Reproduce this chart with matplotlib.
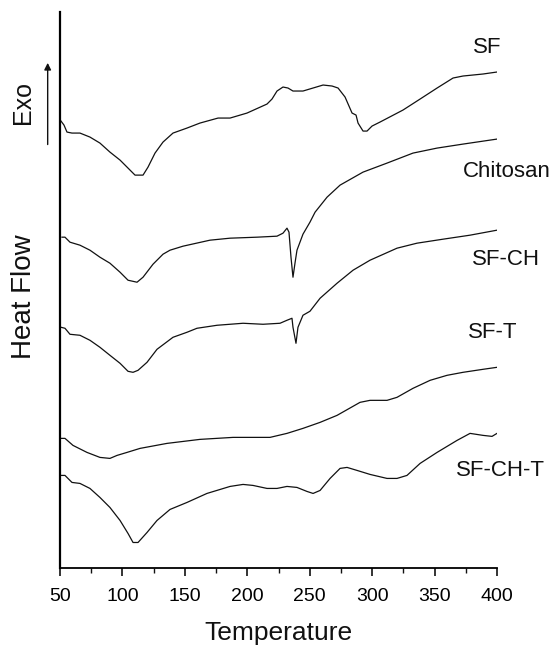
import matplotlib
matplotlib.use('Agg')
import matplotlib.pyplot as plt
from matplotlib.ticker import MultipleLocator

plt.rcParams['font.family'] = ['Liberation Sans', 'DejaVu Sans']

# ── curves (temperature, heat flow in arbitrary offset units) ──
sf_t = [50.8, 53.2, 55.6, 59.6, 66.0, 74.0, 82.0, 90.0, 98.1, 106.1, 110.1, 116.5,
        120.5, 126.1, 132.5, 140.5, 151.7, 162.1, 176.6, 186.2, 199.8, 215.8, 219.8,
        223.8, 228.6, 232.6, 236.6, 244.6, 260.7, 267.9, 272.7, 278.3, 283.9, 287.1,
        288.7, 292.7, 295.9, 299.9, 306.3, 324.7, 338.4, 352.0, 364.8, 372.8, 388.8, 400]
sf_h = [446, 442, 435, 434, 434, 430, 424, 415, 407, 397, 392, 392,
        400, 414, 425, 434, 439, 444, 449, 449, 454, 463, 468,
        476, 480, 479, 476, 476, 482, 481, 479, 470, 454, 452,
        444, 436, 436, 441, 445, 457, 468, 479, 489, 491, 493, 495]

ch_t = [51.6, 54.0, 58.0, 66.0, 74.0, 82.0, 90.0, 98.1, 104.5, 111.7, 116.5, 124.5,
        132.5, 138.1, 148.5, 170.1, 186.2, 207.8, 223.8, 228.6, 231.8, 233.4, 235.0,
        236.6, 238.2, 239.8, 244.6, 250.2, 254.3, 263.9, 274.3, 292.7, 311.9, 332.7,
        352.0, 372.8, 400]
ch_h = [330, 330, 325, 322, 317, 310, 304, 295, 287, 285, 290, 303,
        313, 317, 321, 327, 329, 330, 331, 334, 339, 335, 310,
        290, 304, 317, 333, 345, 355, 370, 382, 395, 404, 414,
        419, 423, 428]

sfch_t = [50.8, 54.0, 58.0, 66.0, 74.0, 82.0, 90.0, 98.1, 104.5, 108.5, 112.5, 119.7,
          127.7, 140.5, 151.7, 159.7, 175.8, 196.6, 212.6, 226.2, 231.8, 235.8, 236.6,
          239.0, 240.6, 244.6, 250.2, 258.3, 271.9, 284.7, 298.3, 319.9, 335.9, 356.8,
          378.4, 400]
sfch_h = [240, 239, 233, 232, 227, 220, 212, 204, 196, 195, 197, 205,
          218, 230, 235, 239, 242, 244, 243, 244, 247, 249, 240,
          224, 240, 252, 256, 269, 284, 297, 307, 319, 324, 328,
          332, 337]

sft_t = [50.8, 54.0, 60.4, 71.6, 82.0, 90.0, 95.7, 103.7, 114.1, 135.7, 162.1, 188.6,
         218.2, 231.8, 244.6, 258.3, 271.9, 290.3, 298.3, 311.9, 319.9, 332.7, 346.4,
         360.0, 372.8, 388.8, 400]
sft_h = [129, 129, 122, 115, 110, 109, 112, 115, 119, 124, 128, 130,
         130, 134, 139, 145, 152, 165, 167, 167, 170, 179, 187,
         192, 195, 198, 200]

sfcht_t = [50, 54.0, 59.6, 66.0, 74.0, 82.0, 90.0, 98.1, 104.5, 108.5, 112.5, 119.7,
           127.7, 138.1, 151.7, 167.7, 186.2, 196.6, 204.6, 215.8, 223.8, 231.8, 239.8,
           247.8, 252.7, 258.3, 266.3, 274.3, 279.9, 287.9, 298.3, 311.9, 319.9, 327.9,
           338.4, 352.0, 368.0, 378.4, 388.8, 396.0, 400]
sfcht_h = [92, 92, 85, 84, 79, 70, 60, 47, 34, 25, 25, 35,
           47, 58, 65, 74, 81, 83, 82, 79, 79, 81, 80,
           76, 74, 77, 89, 99, 100, 97, 93, 89, 89, 92,
           104, 115, 127, 134, 132, 131, 134]

curves = [(sf_t, sf_h), (ch_t, ch_h), (sfch_t, sfch_h), (sft_t, sft_h), (sfcht_t, sfcht_h)]
labels = ['SF', 'Chitosan', 'SF-CH', 'SF-T', 'SF-CH-T']
label_pos = [(0.874, 0.927), (0.910, 0.735), (0.908, 0.598), (0.885, 0.485), (0.899, 0.271)]

fig = plt.figure(figsize=(5.57, 6.46), dpi=100)
fig.patch.set_facecolor('white')
ax = fig.add_axes([0.1077, 0.1215, 0.7846, 0.8600])

for t, h in curves:
    ax.plot(t, h, color='#111111', linewidth=0.9)

ax.set_xlim(50, 400)
ax.set_ylim(0, 555)
ax.xaxis.set_major_locator(MultipleLocator(50))
ax.xaxis.set_minor_locator(MultipleLocator(25))
ax.set_yticks([])
ax.tick_params(axis='x', which='major', direction='out', length=6, width=1.2,
               labelsize=14, pad=9, color='#111111')
ax.tick_params(axis='x', which='minor', direction='out', length=3.5, width=1.0, color='#111111')
ax.spines['top'].set_visible(False)
ax.spines['right'].set_visible(False)
ax.spines['left'].set_linewidth(1.6)
ax.spines['bottom'].set_linewidth(1.3)

for lab, (fx, fy) in zip(labels, label_pos):
    fig.text(fx, fy, lab, fontsize=16, ha='center', va='center', color='#111111')

fig.text(0.499, 0.020, 'Temperature', fontsize=19, ha='center', va='center', color='#111111')
fig.text(0.043, 0.540, 'Heat Flow', fontsize=20, rotation=90, ha='center', va='center',
         color='#111111')
fig.text(0.041, 0.842, 'Exo', fontsize=18, rotation=90, ha='center', va='center',
         color='#111111')
ax.annotate('', xy=(0.0856, 0.907), xytext=(0.0856, 0.772),
            xycoords='figure fraction', textcoords='figure fraction',
            arrowprops=dict(arrowstyle='-|>', color='#111111', lw=1.0,
                            mutation_scale=10))

plt.savefig('out.png', dpi=100, facecolor='white')
plt.close()
